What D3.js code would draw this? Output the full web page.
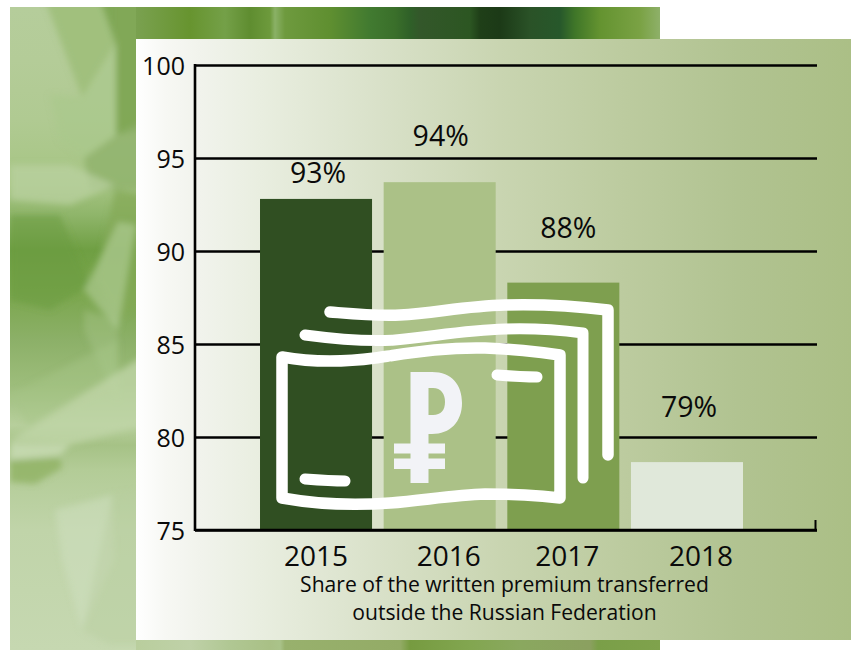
<!DOCTYPE html>
<html>
<head>
<meta charset="utf-8">
<script src="https://d3js.org/d3.v7.min.js"></script>
<style>
html,body{margin:0;padding:0;background:#fff;}
svg{display:block;}
text{font-family:"Open Sans",sans-serif;fill:#0a0a0a;}
</style>
</head>
<body>
<svg id="c" width="851" height="650"></svg>
<script>
const categories = ["2015","2016","2017","2018"];
const values = [92.8,93.7,88.3,78.65];
const valueLabels = ["93%","94%","88%","79%"];
const labelLevels = [93.65,95.65,90.7,81.1];
const barColors = ["#304f22","#abc187","#7e9f4f","#e0e8da"];
const yTicks = [75,80,85,90,95,100];
const captionLines = ["Share of the written premium transferred","outside the Russian Federation"];

const svg = d3.select("#c");
const defs = svg.append("defs");

function hGrad(id, x1, x2, stops){
  const g = defs.append("linearGradient").attr("id",id).attr("gradientUnits","userSpaceOnUse")
    .attr("x1",x1).attr("x2",x2).attr("y1",0).attr("y2",0);
  stops.forEach(s=>g.append("stop").attr("offset",(s[0]-x1)/(x2-x1)).attr("stop-color",s[1]));
}
function vGrad(id, y1, y2, stops){
  const g = defs.append("linearGradient").attr("id",id).attr("gradientUnits","userSpaceOnUse")
    .attr("x1",0).attr("x2",0).attr("y1",y1).attr("y2",y2);
  stops.forEach(s=>g.append("stop").attr("offset",(s[0]-y1)/(y2-y1)).attr("stop-color",s[1]));
}
hGrad("panel",136,851,[[136,"#ffffff"],[165,"#f7f8f4"],[200,"#f1f3ec"],[260,"#e9eee0"],[378,"#d9e1c9"],[500,"#c9d5b1"],[625,"#bccb9f"],[737,"#b1c391"],[851,"#abbf86"]]);
hGrad("topStrip",136,660,[[136,"#7aa150"],[190,"#67942f"],[225,"#74a048"],[250,"#5f8d30"],[270,"#6d9a3c"],[275,"#8ab166"],[285,"#6e9a3e"],[330,"#5f8f30"],[370,"#417a30"],[395,"#3a6f2a"],[410,"#2f6028"],[420,"#33572a"],[470,"#2c5622"],[480,"#1f3f18"],[500,"#1c3a17"],[530,"#2a5227"],[560,"#27582b"],[575,"#3f7628"],[600,"#649330"],[640,"#7aa244"],[660,"#8eb069"]]);
vGrad("leftStrip",7,650,[[7,"#b5cd9b"],[60,"#b4cc98"],[120,"#b0ca92"],[185,"#a6c583"],[215,"#8fb56a"],[250,"#6f9f43"],[290,"#7aa64c"],[340,"#8cb068"],[385,"#9dbd7b"],[425,"#b7cf9c"],[445,"#a6c286"],[470,"#b3cc97"],[530,"#c0d4a9"],[650,"#c6d8b1"]]);
hGrad("botStrip",136,660,[[136,"#b9ce9d"],[190,"#bfd1a8"],[230,"#b0c793"],[270,"#a9c086"],[280,"#aac38a"],[285,"#98b16d"],[400,"#93ab66"],[410,"#769b40"],[470,"#82a650"],[520,"#8aa85f"],[590,"#8ba060"],[598,"#7a9f48"],[660,"#7fa24c"]]);
const blur = defs.append("filter").attr("id","soft").attr("x","-10%").attr("y","-10%").attr("width","120%").attr("height","120%");
blur.append("feGaussianBlur").attr("stdDeviation",3);
defs.append("clipPath").attr("id","photoClip").append("rect").attr("x",10).attr("y",7).attr("width",650).attr("height",643);

// Background photograph, approximated
const photo = svg.append("g").attr("clip-path","url(#photoClip)");
photo.append("rect").attr("x",10).attr("y",7).attr("width",650).attr("height",643).attr("fill","url(#leftStrip)");
const shards = photo.append("g").attr("filter","url(#soft)");
const shard = (pts,fill,op)=>shards.append("polygon").attr("points",pts).attr("fill",fill).attr("opacity",op);
shard("45,0 115,0 115,45 82,97","#9fbf7a",0.9);
shard("100,0 145,0 145,130 116,135 116,45","#7ea553",0.95);
shard("50,95 82,97 116,45 116,135 84,158 60,140","#a9c88c",0.65);
shard("84,158 116,135 145,120 145,190 90,190","#8fb26a",0.8);
shard("10,165 70,165 115,185 70,205 10,200","#bbd1a3",0.7);
shard("115,190 145,195 145,300 118,320 96,280","#84aa57",0.75);
shard("10,215 60,215 90,285 50,310 10,300","#6a9b3e",0.55);
shard("118,222 136,225 118,330 84,290","#b4cf9b",0.6);
shard("84,310 118,320 118,405 84,330","#aecb93",0.35);
shard("10,395 118,340 118,385 30,430","#a6c587",0.45);
shard("10,440 145,355 145,425 70,445","#c0d6a8",0.75);
shard("10,442 70,445 60,455 10,460","#cfe0bc",0.7);
shard("10,460 60,458 62,468 35,484 10,482","#8aae5d",0.7);
shard("55,510 112,495 114,560 82,630 62,560","#cfdfc1",0.5);
shard("112,495 145,490 145,645 110,645 82,630","#b9cf9f",0.45);
photo.append("rect").attr("x",136).attr("y",7).attr("width",524).attr("height",32).attr("fill","url(#topStrip)");
photo.append("rect").attr("x",136).attr("y",640).attr("width",524).attr("height",10).attr("fill","url(#botStrip)");

// Panel
svg.append("rect").attr("x",136).attr("y",39).attr("width",715).attr("height",601).attr("fill","url(#panel)");

// Scales
const y = d3.scaleLinear().domain([75,100]).range([530,65]);
const x = d3.scaleBand().domain(categories).range([254.2,748.8]).paddingInner(0.094).paddingOuter(0.047);
const plotRight = 817, plotLeft = 195;

// Grid and y axis
const yAxis = d3.axisLeft(y).tickValues(yTicks).tickSize(-(plotRight-plotLeft)).tickPadding(10).tickFormat(d3.format("d"));
const gy = svg.append("g").attr("transform",`translate(${plotLeft},0)`).call(yAxis);
gy.selectAll(".tick line").attr("stroke","#000").attr("stroke-width",2.6);
gy.select(".domain").remove();
gy.selectAll(".tick text").attr("font-size",25).attr("x",-10).attr("dy","0.36em");
svg.append("line").attr("x1",plotLeft).attr("x2",plotLeft).attr("y1",y(100)-1).attr("y2",y(75)+1).attr("stroke","#000").attr("stroke-width",2.6);

// Bars
svg.append("g").selectAll("rect").data(values).join("rect")
  .attr("x",(d,i)=>x(categories[i])).attr("width",x.bandwidth())
  .attr("y",d=>y(d)).attr("height",d=>y(75)-y(d)-1)
  .attr("fill",(d,i)=>barColors[i]);

// Baseline and end tick
svg.append("line").attr("x1",plotLeft).attr("x2",plotRight).attr("y1",y(75)).attr("y2",y(75)).attr("stroke","#000").attr("stroke-width",2.6);
svg.append("line").attr("x1",815.5).attr("x2",815.5).attr("y1",520).attr("y2",531).attr("stroke","#000").attr("stroke-width",2);

// Value labels
const valueNudge = [2,1,5,2];
svg.append("g").selectAll("text").data(valueLabels).join("text")
  .attr("x",(d,i)=>x(categories[i])+x.bandwidth()/2+valueNudge[i])
  .attr("y",(d,i)=>y(labelLevels[i]))
  .attr("text-anchor","middle").attr("font-size",28.5).text(d=>d);

// Category labels
const catNudge = [0,9,4,14];
svg.append("g").selectAll("text").data(categories).join("text")
  .attr("x",(d,i)=>x(d)+x.bandwidth()/2+catNudge[i])
  .attr("y",566).attr("text-anchor","middle").attr("font-size",28).text(d=>d);

// Caption
svg.append("g").selectAll("text").data(captionLines).join("text")
  .attr("x",504.5).attr("y",(d,i)=>592+i*28)
  .attr("text-anchor","middle").attr("font-size",21.1).text(d=>d);

// Banknote icon
const icon = svg.append("g").attr("fill","none").attr("stroke","#fff").attr("stroke-linecap","round").attr("stroke-linejoin","round");
icon.append("path").attr("stroke-width",11.5)
  .attr("d","M282,357 C310,362 345,362 375,358 C410,353 445,347 485,348 C510,349 540,352 560,355 L560,498 C535,495 510,494 485,494 C455,495 425,500 390,503 C350,506 310,503 282,498 Z");
icon.append("path").attr("stroke-width",11)
  .attr("d","M305,335 C335,339 365,342 395,340 C430,337 465,330 505,329 C535,328 560,330 583,333 L583,478");
icon.append("path").attr("stroke-width",11.5)
  .attr("d","M330,312 C355,314 375,316 400,315 C435,313 465,306 505,305 C540,304 575,306 608,310 L608,455");
icon.append("path").attr("stroke-width",11).attr("d","M305,479 C318,480 332,481 345,481");
icon.append("path").attr("stroke-width",11).attr("d","M497,375 C510,376 524,377 537,377");
svg.append("path").attr("fill","#f2f3f7").attr("fill-rule","evenodd")
  .attr("d","M410.5,372 L432,372 C452,372 462,385 462,403 C462,422 450,434 432,434 L428.5,434 L428.5,443.5 L445,443.5 L445,453.5 L428.5,453.5 L428.5,458.5 L445,458.5 L445,469 L428.5,469 L428.5,483 L410.5,483 L410.5,469 L394,469 L394,458.5 L410.5,458.5 L410.5,453.5 L394,453.5 L394,443.5 L410.5,443.5 Z M428.5,388 L428.5,415 L433,415 C441,415 445,410 445,402 C445,394 441,388 433,388 Z");
</script>
</body>
</html>
